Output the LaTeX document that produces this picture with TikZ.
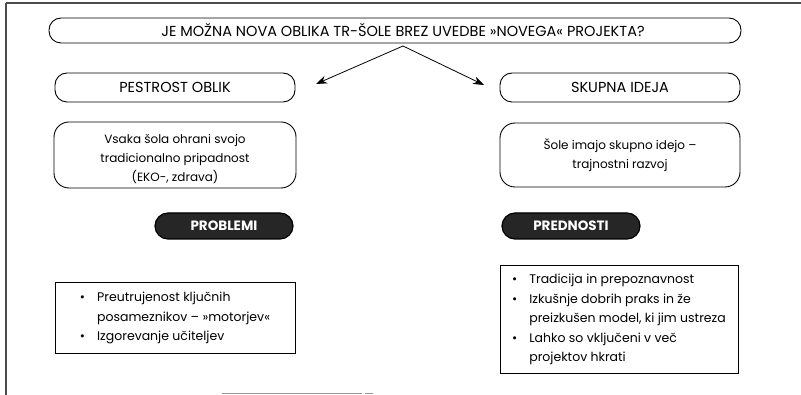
\documentclass[tikz,border=0pt]{standalone}
\usepackage{fontspec}
\setmainfont{Poppins}
\usetikzlibrary{arrows.meta}
\tikzset{
  rbox/.style={draw=black, line width=0.9pt, rounded corners=12pt, inner sep=0pt, align=center},
  pill/.style={draw=black, line width=1.2pt, fill=black!85, rounded corners=13pt, inner sep=0pt,
               text=white, font={\fontsize{13.5}{14}\selectfont\bfseries}},
  sqbox/.style={draw=black, line width=0.9pt, inner sep=0pt, align=left},
  conn/.style={-{Stealth[length=11pt,width=8pt]}, line width=0.8pt},
  framel/.style={line width=1.1pt, draw=black!70},
  scanl/.style={line width=0.8pt, draw=black!40},
  titlefont/.style={font={\fontsize{14.5}{16}\selectfont}},
  bodyfont/.style={font={\fontsize{12}{19}\selectfont}},
  plaintext/.style={inner sep=0pt, align=center}
}
\newcommand{\bulletrows}[1]{{\fontsize{12.5}{19.5}\selectfont
  \begin{tabular}{@{}l@{\hspace{12pt}}l@{}}#1\end{tabular}}}
\begin{document}
\begin{tikzpicture}[x=1pt,y=-1pt]
\useasboundingbox (0,0) rectangle (801,395);
% frame remnants
\draw[framel] (6,3) -- (801,3);
\draw[framel] (6,3) -- (6,395);
\draw[scanl] (222,393) -- (362,393);
\draw[scanl] (365,393) -- (373,393);

% question
\node[rbox, titlefont, minimum width=692pt, minimum height=25pt] (q) at (395,30.5)
  {\hspace*{16pt}JE MOŽNA NOVA OBLIKA TR-ŠOLE BREZ UVEDBE »NOVEGA« PROJEKTA?};

% two headings
\node[rbox, titlefont, minimum width=240pt, minimum height=29pt] (pest) at (175,87.5) {PESTROST OBLIK};
\node[rbox, titlefont, minimum width=240pt, minimum height=29pt] (skup) at (620,87.5) {SKUPNA IDEJA};

% arrows
\coordinate (apex) at (403,46);
\coordinate (tipL) at (316,84);
\coordinate (tipR) at (484,85);
\draw[conn] (apex) -- (tipL);
\draw[conn] (apex) -- (tipR);

% descriptions
\node[rbox, rounded corners=15pt, minimum width=242pt, minimum height=66pt] (vsaka) at (175,155) {};
\node[plaintext, bodyfont] (vsakat) at (175,159)
  {Vsaka šola ohrani svojo\\tradicionalno pripadnost\\(EKO-, zdrava)};
\node[rbox, bodyfont, rounded corners=15pt, minimum width=240pt, minimum height=64pt] (sole) at (620,155)
  {Šole imajo skupno idejo –\\trajnostni razvoj};

% pills
\node[pill, minimum width=138pt, minimum height=26pt] (probl) at (224,226) {PROBLEMI};
\node[pill, minimum width=138pt, minimum height=26pt] (predn) at (571,226) {PREDNOSTI};

% bullet boxes
\node[sqbox, minimum width=240pt, minimum height=71pt] (bl) at (175,317.5)
  {\bulletrows{\textbullet & Preutrujenost ključnih\\
               & posameznikov – »motorjev«\\
               \textbullet & Izgorevanje učiteljev}};
\node[sqbox, minimum width=238pt, minimum height=108pt] (br) at (619,319)
  {\bulletrows{\textbullet & Tradicija in prepoznavnost\\
               \textbullet & Izkušnje dobrih praks in že\\
               & preizkušen model, ki jim ustreza\\
               \textbullet & Lahko so vključeni v več\\
               & projektov hkrati}};
\end{tikzpicture}
\end{document}
